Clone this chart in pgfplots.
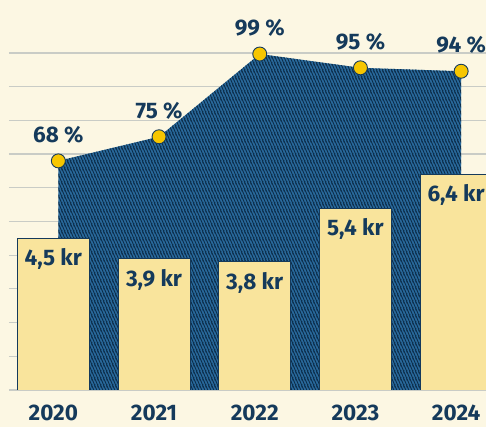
\documentclass[border=0pt]{standalone}
\usepackage{fontspec}
\setmainfont{Fira Sans}
\usepackage{pgfplots}
\pgfplotsset{compat=1.18}
\usetikzlibrary{patterns.meta}
\definecolor{bgcream}{HTML}{FCF7E3}
\definecolor{gridgray}{HTML}{C9CCC6}
\definecolor{barfill}{HTML}{F9E49C}
\definecolor{navy}{HTML}{153A5B}
\definecolor{areablue}{HTML}{2A6B9E}
\definecolor{hatch}{HTML}{0C2D4A}
\definecolor{markyellow}{HTML}{F7C600}
\tikzdeclarepattern{
  name=steephatch,
  type=uncolored,
  bounding box={(0pt,0pt) and (2.8pt,7pt)},
  tile size={(2.8pt,7pt)},
  code={
    \draw[line width=1pt] (-3.08pt,7.7pt) -- (0.28pt,-0.7pt);
    \draw[line width=1pt] (-0.28pt,7.7pt) -- (3.08pt,-0.7pt);
    \draw[line width=1pt] (2.52pt,7.7pt) -- (5.88pt,-0.7pt);
  }
}
\begin{document}
\begin{tikzpicture}[x=1pt,y=1pt]
\fill[bgcream] (0,0) rectangle (486,427);
\clip (0,0) rectangle (486,427);
% grid axis (kr scale)
\begin{axis}[at={(9pt,37pt)}, anchor=south west, scale only axis,
  width=547.8pt, height=337pt, xmin=2019.56, xmax=2025, ymin=0, ymax=10,
  axis line style={draw=none}, ytick={0,...,10}, yticklabels={}, xtick=\empty,
  major tick length=0pt, ymajorgrids, grid style={gridgray, line width=1.2pt}]
\end{axis}
% area axis (percent scale)
\begin{axis}[at={(9pt,37pt)}, anchor=south west, scale only axis,
  width=547.8pt, height=337pt, xmin=2019.56, xmax=2025, ymin=1.54, ymax=99.3,
  hide axis, clip=false,
  /pgf/number format/assume math mode=true]
\addplot[fill=areablue, draw=none] coordinates {(2020.05,68)(2021.05,75)(2022.05,99)(2023.05,95)(2024.05,94)} -- (axis cs:2024.05,1.54) -- (axis cs:2020.05,1.54) -- cycle;
\addplot[pattern=steephatch, pattern color=hatch, draw=none] coordinates {(2020.05,68)(2021.05,75)(2022.05,99)(2023.05,95)(2024.05,94)} -- (axis cs:2024.05,1.54) -- (axis cs:2020.05,1.54) -- cycle;
\addplot[draw=none, mark=*, mark size=7pt, mark options={fill=markyellow, draw=navy, line width=0.9pt},
  nodes near coords={\pgfmathprintnumber{\pgfplotspointmeta}~\%},
  every node near coord/.append style={anchor=south, inner sep=0pt, yshift=17pt, text=navy,
    font=\fontsize{22.5}{26}\selectfont\bfseries}]
  coordinates {(2020.05,68)(2021.05,75)(2022.05,99)(2023.05,95)(2024.05,94)};
\end{axis}
% bar axis (kr scale)
\begin{axis}[at={(9pt,37pt)}, anchor=south west, scale only axis,
  width=547.8pt, height=337pt, xmin=2019.56, xmax=2025, ymin=0, ymax=10,
  axis line style={draw=none}, ytick=\empty, major tick length=0pt,
  xtick={2020,2021,2022,2023,2024},
  xticklabels={2020,2021,2022,2023,2024},
  xticklabel style={anchor=north, inner sep=0pt, yshift=-15pt, text=navy,
    font=\fontsize{22.5}{26}\selectfont\bfseries},
  /pgf/number format/assume math mode=true]
\addplot[ybar, bar width=72pt, fill=barfill, draw=navy, line width=0.9pt,
  nodes near coords={\pgfmathprintnumber[use comma, fixed, fixed zerofill, precision=1]{\pgfplotspointmeta}~kr},
  every node near coord/.append style={anchor=north, inner sep=0pt, yshift=-10pt, text=navy,
    font=\fontsize{22.5}{26}\selectfont\bfseries}]
  coordinates {(2020,4.5)(2021,3.9)(2022,3.8)(2023,5.4)(2024,6.4)};
\end{axis}
\end{tikzpicture}
\end{document}
